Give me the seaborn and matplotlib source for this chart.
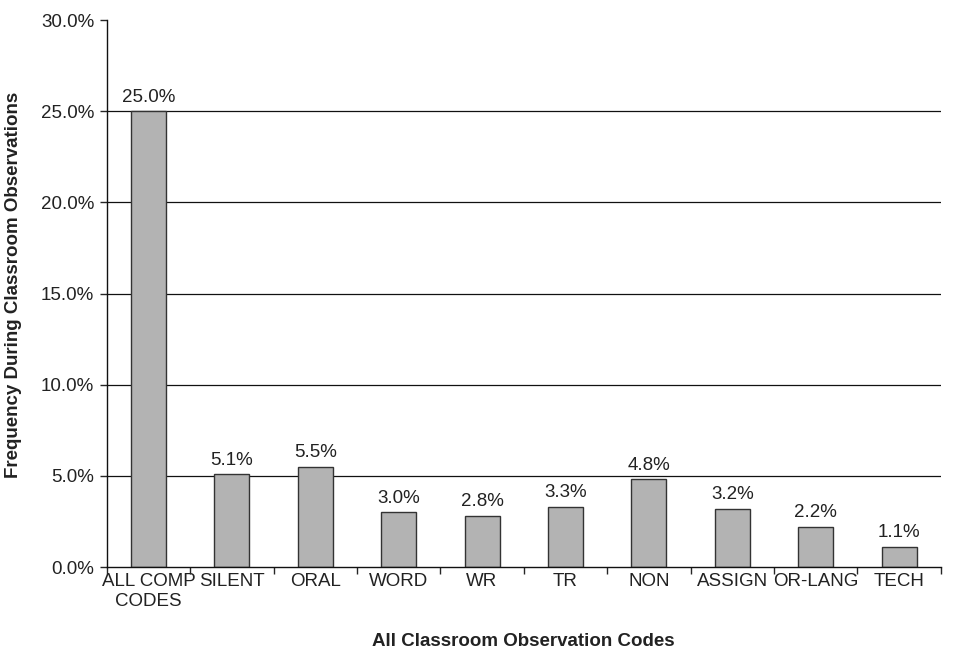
import matplotlib
matplotlib.use("Agg")
import matplotlib.pyplot as plt
import seaborn as sns
import pandas as pd
from matplotlib.ticker import FixedLocator

sns.set_style("white")
plt.rcParams['font.family'] = ['Liberation Sans', 'DejaVu Sans']

codes = ["ALL COMP\nCODES", "SILENT", "ORAL", "WORD", "WR", "TR", "NON", "ASSIGN", "OR-LANG", "TECH"]
freq = [25.0, 5.1, 5.5, 3.0, 2.8, 3.3, 4.8, 3.2, 2.2, 1.1]

df = pd.DataFrame({"code": codes, "freq": freq})

fig = plt.figure(figsize=(9.61, 6.48), dpi=100)
ax = fig.add_axes([0.111, 0.125, 0.868, 0.844])

sns.barplot(data=df, x="code", y="freq", color="#b3b3b3", edgecolor="#333333",
            linewidth=1.0, width=0.42, saturation=1, ax=ax)

for i, v in enumerate(freq):
    ax.text(i, v + 0.3, f"{v:.1f}%", ha="center", va="bottom", fontsize=13.5, color="#222222")

ax.set_xlim(-0.5, len(codes) - 0.5)
ax.set_ylim(0, 30)
ax.set_yticks(range(0, 31, 5))
ax.set_yticklabels([f"{t:.1f}%" for t in range(0, 31, 5)], fontsize=13.5, color="#222222")
for y in range(5, 30, 5):
    ax.axhline(y, color="#111111", linewidth=0.9, zorder=0)

ax.tick_params(axis="x", which="major", length=0, labelsize=13.5, labelcolor="#222222", pad=4)
ax.xaxis.set_minor_locator(FixedLocator([i - 0.5 for i in range(len(codes) + 1)]))
ax.tick_params(axis="x", which="minor", length=5, width=1, direction="out", bottom=True)
ax.tick_params(axis="y", length=5, width=1, direction="out", left=True, pad=4)
for lbl in ax.get_xticklabels():
    lbl.set_linespacing(1.3)

for s in ["top", "right"]:
    ax.spines[s].set_visible(False)
for s in ["left", "bottom"]:
    ax.spines[s].set_color("#111111")
    ax.spines[s].set_linewidth(1.0)

ax.set_xlabel("All Classroom Observation Codes", fontsize=13.5, fontweight="bold", color="#222222")
ax.set_ylabel("Frequency During Classroom Observations", fontsize=13.5, fontweight="bold", color="#222222")
ax.xaxis.set_label_coords(0.5, -0.12)
ax.yaxis.set_label_coords(-0.102, 0.515)

fig.savefig("out.png", dpi=100)
